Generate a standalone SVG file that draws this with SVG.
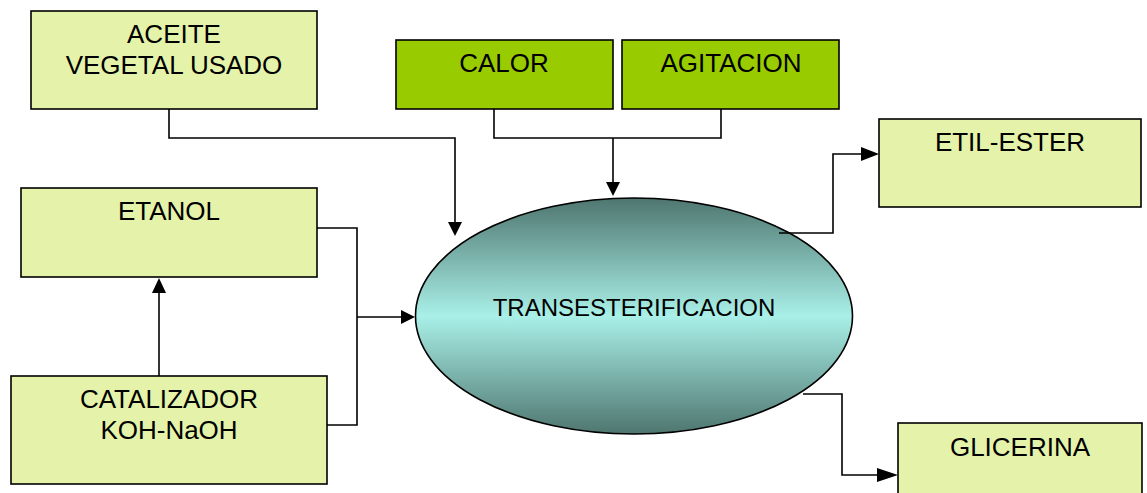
<svg xmlns="http://www.w3.org/2000/svg" width="1147" height="493" viewBox="0 0 1147 493">
  <style>
    .box { fill: #E4F3A9; stroke: #000; stroke-width: 1.6; }
    .hot { fill: #99CC00; stroke: #000; stroke-width: 1.6; }
    .lbl { font-family: "Liberation Sans", Arial, sans-serif; font-size: 26px; fill: #000; text-anchor: middle; }
    .core { font-family: "Liberation Sans", Arial, sans-serif; font-size: 24px; fill: #000; text-anchor: middle; }
    .wire { fill: none; stroke: #000; stroke-width: 1.6; }
    .head { fill: #000; stroke: none; }
  </style>
  <defs>
    <linearGradient id="reactorFill" x1="0" y1="0" x2="0" y2="1">
      <stop offset="0" stop-color="#4E766F"/>
      <stop offset="0.5" stop-color="#A9F0E8"/>
      <stop offset="1" stop-color="#4E766F"/>
    </linearGradient>
  </defs>

  <rect width="1147" height="493" fill="#fff"/>

  <!-- feed and condition boxes -->
  <g id="aceite">
    <rect class="box" x="31" y="11" width="286" height="98"/>
    <text class="lbl" x="174" y="43">ACEITE</text>
    <text class="lbl" x="174" y="74">VEGETAL USADO</text>
  </g>
  <g id="calor">
    <rect class="hot" x="396" y="40" width="217" height="69"/>
    <text class="lbl" x="504" y="72">CALOR</text>
  </g>
  <g id="agitacion">
    <rect class="hot" x="622" y="40" width="217" height="69"/>
    <text class="lbl" x="731" y="72">AGITACION</text>
  </g>
  <g id="etanol">
    <rect class="box" x="21" y="188" width="296" height="89"/>
    <text class="lbl" x="169" y="220">ETANOL</text>
  </g>
  <g id="catalizador">
    <rect class="box" x="11" y="376" width="316" height="108"/>
    <text class="lbl" x="169" y="408">CATALIZADOR</text>
    <text class="lbl" x="169" y="439">KOH-NaOH</text>
  </g>

  <!-- reactor -->
  <g id="transesterificacion">
    <ellipse cx="634" cy="316" rx="218.5" ry="118" fill="url(#reactorFill)" stroke="#000" stroke-width="1.6"/>
    <text class="core" x="634" y="316">TRANSESTERIFICACION</text>
  </g>

  <!-- products -->
  <g id="etil-ester">
    <rect class="box" x="879" y="119" width="262" height="88"/>
    <text class="lbl" x="1010" y="151">ETIL-ESTER</text>
  </g>
  <g id="glicerina">
    <rect class="box" x="898" y="423" width="244" height="82"/>
    <text class="lbl" x="1020" y="456">GLICERINA</text>
  </g>

  <!-- connectors -->
  <g id="connectors">
    <polyline class="wire" points="169,109 169,138 455,138 455,223"/>
    <polygon class="head" points="448,222 462,222 455,236"/>

    <polyline class="wire" points="494,109 494,138 721,138 721,109"/>
    <line class="wire" x1="613" y1="138" x2="613" y2="183"/>
    <polygon class="head" points="606,182 620,182 613,196"/>

    <line class="wire" x1="159" y1="376" x2="159" y2="292"/>
    <polygon class="head" points="152,293 166,293 159,278"/>

    <polyline class="wire" points="317,228 357,228 357,425 327,425"/>
    <line class="wire" x1="357" y1="317" x2="402" y2="317"/>
    <polygon class="head" points="401,310 401,324 415,317"/>

    <polyline class="wire" points="779,233 833,233 833,154 862,154"/>
    <polygon class="head" points="861,147 861,161 879,154"/>

    <polyline class="wire" points="803,394 842,394 842,475 879,475"/>
    <polygon class="head" points="877,468 877,482 898,475"/>
  </g>
</svg>
